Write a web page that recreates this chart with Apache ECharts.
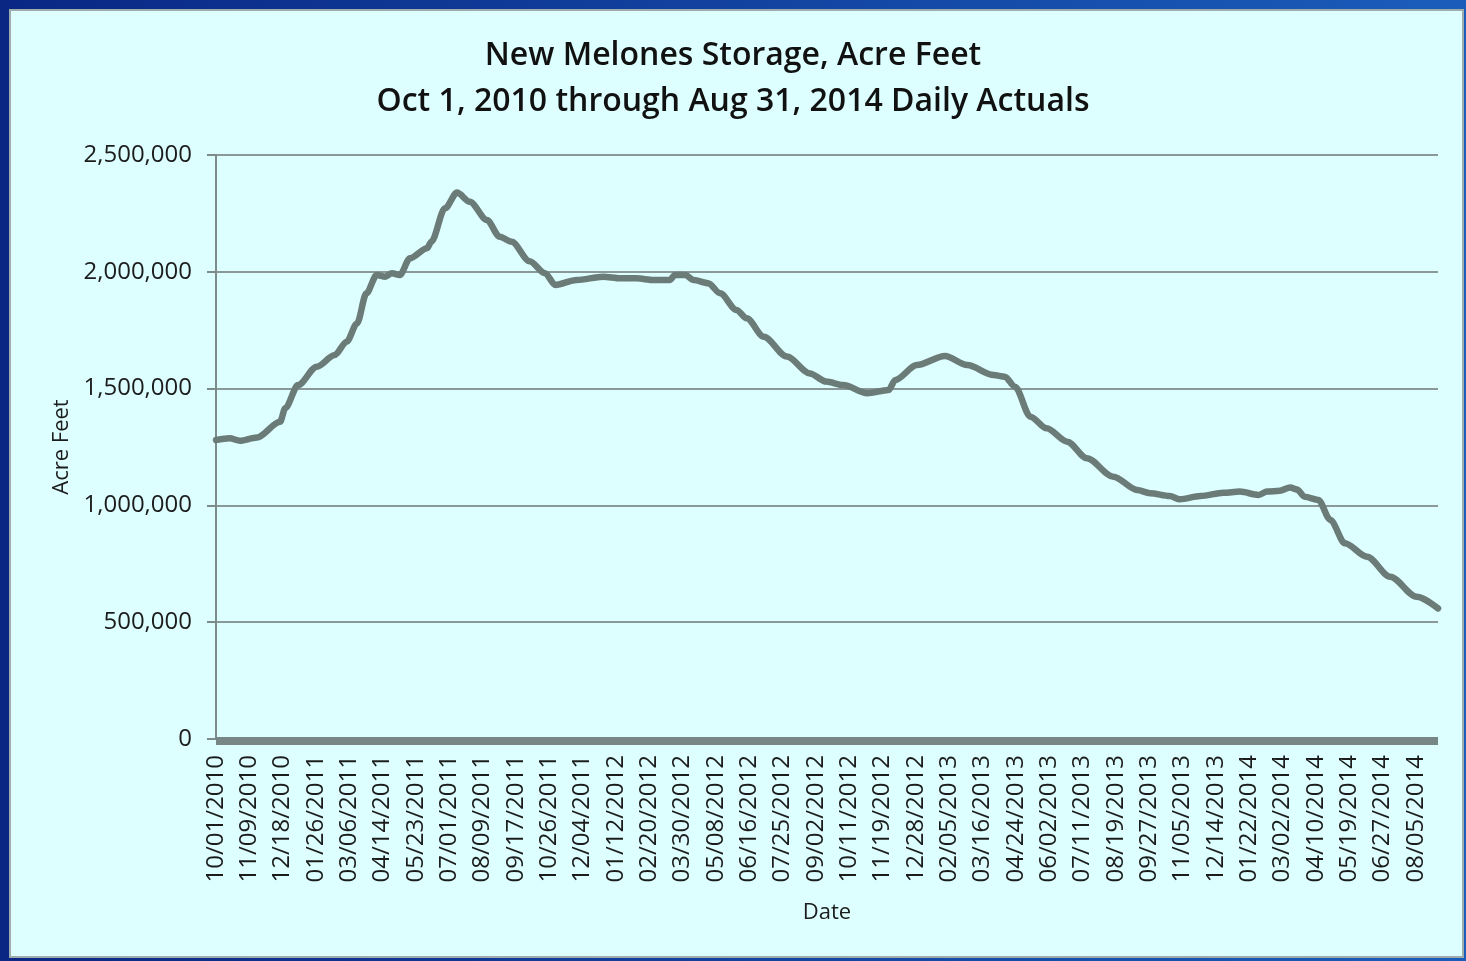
<!DOCTYPE html>
<html>
<head>
<meta charset="utf-8">
<title>New Melones Storage</title>
<script src="https://cdn.jsdelivr.net/npm/echarts@6/dist/echarts.min.js"></script>
<style>
  html, body {
    margin: 0;
    padding: 0;
    width: 1466px;
    height: 961px;
    overflow: hidden;
    background: linear-gradient(90deg, #0a2784 0%, #1448a6 60%, #1b5cba 100%);
  }
  .frame {
    position: absolute;
    left: 9px;
    top: 9px;
    width: 1455px;
    height: 949px;
    box-sizing: border-box;
    background: #ddffff;
    border: 2px solid #9eacac;
  }
  #chart {
    position: absolute;
    left: 0;
    top: 0;
    width: 1466px;
    height: 961px;
  }
</style>
</head>
<body>
<div class="frame"></div>
<div id="chart"></div>
<script>
// days counted from 10/01/2010, storage in acre feet
const startDate = Date.UTC(2010, 9, 1)
const lastDay = 1430   // 08/31/2014
const labelStep = 39   // one date label every 39 days

const storageDay = [
  0, 16, 28, 48, 75, 81, 96, 118, 139, 153, 165, 176, 188, 198, 206, 215,
  227, 247, 252, 268, 282, 297, 317, 332, 346, 367, 385, 397, 422, 453, 473,
  492, 512, 531, 537, 549, 559, 576, 590, 609, 621, 641, 668, 695, 714, 734,
  762, 787, 795, 820, 853, 879, 910, 923, 935, 953, 972, 996, 1019, 1050,
  1078, 1093, 1116, 1128, 1152, 1179, 1198, 1220, 1230, 1245, 1257, 1265,
  1274, 1290, 1304, 1321, 1347, 1374, 1405, 1430
]
const storageAF = [
  1280000, 1287000, 1277000, 1291000, 1358000, 1416000, 1515000, 1594000,
  1644000, 1701000, 1779000, 1908000, 1986000, 1979000, 1994000, 1986000,
  2058000, 2101000, 2129000, 2272000, 2339000, 2300000, 2222000, 2150000,
  2129000, 2045000, 1994000, 1944000, 1965000, 1979000, 1972000, 1972000,
  1965000, 1965000, 1986000, 1986000, 1965000, 1951000, 1908000, 1837000,
  1801000, 1722000, 1637000, 1565000, 1530000, 1515000, 1480000, 1494000,
  1537000, 1601000, 1640000, 1601000, 1558000, 1551000, 1508000, 1380000,
  1330000, 1273000, 1202000, 1123000, 1066000, 1052000, 1040000, 1026000,
  1040000, 1054000, 1059000, 1045000, 1059000, 1063000, 1077000, 1068000,
  1037000, 1023000, 938000, 838000, 780000, 695000, 609000, 559000
]

const yMax = 2500000
const yStep = 500000

function dayLabel(v) {
  const d = new Date(startDate + v * 86400000)
  const mm = String(d.getUTCMonth() + 1).padStart(2, '0')
  const dd = String(d.getUTCDate()).padStart(2, '0')
  return mm + '/' + dd + '/' + d.getUTCFullYear()
}

const chart = echarts.init(document.getElementById('chart'))
const textColor = '#1c1c1c'
const font = '"Open Sans", "DejaVu Sans", sans-serif'

chart.setOption({
  animation: false,
  backgroundColor: 'transparent',
  title: {
    text: 'New Melones Storage, Acre Feet\nOct 1, 2010 through Aug 31, 2014 Daily Actuals',
    left: 'center',
    top: 33,
    padding: 0,
    textStyle: {
      fontFamily: font,
      fontSize: 32,
      fontWeight: 600,
      color: '#111',
      lineHeight: 46
    }
  },
  grid: {
    left: 216,
    right: 28,
    top: 155,
    bottom: 222,
    containLabel: false
  },
  xAxis: {
    type: 'value',
    min: 0,
    max: lastDay,
    interval: labelStep,
    offset: 2,
    name: 'Date',
    nameLocation: 'middle',
    nameGap: 161,
    nameTextStyle: { fontFamily: font, fontSize: 22, color: textColor },
    axisLine: { show: true, onZero: false, lineStyle: { color: '#778785', width: 8, cap: 'butt' } },
    axisTick: { show: false },
    splitLine: { show: false },
    axisLabel: {
      rotate: 90,
      margin: 14,
      fontFamily: font,
      fontSize: 24,
      color: textColor,
      showMaxLabel: false,
      formatter: dayLabel
    }
  },
  yAxis: {
    type: 'value',
    min: 0,
    max: yMax,
    interval: yStep,
    name: 'Acre Feet',
    nameLocation: 'middle',
    nameGap: 143,
    nameTextStyle: { fontFamily: font, fontSize: 22, color: textColor },
    axisLine: { show: true, lineStyle: { color: '#7d8b8a', width: 2 } },
    axisTick: { show: true, length: 9, lineStyle: { color: '#7d8b8a', width: 2 } },
    splitLine: { show: true, lineStyle: { color: '#8a9897', width: 2 } },
    axisLabel: {
      margin: 24,
      fontFamily: font,
      fontSize: 24,
      color: textColor,
      formatter: v => v.toLocaleString('en-US')
    }
  },
  series: [
    {
      type: 'line',
      data: storageDay.map((d, i) => [d, storageAF[i]]),
      showSymbol: false,
      smooth: 0.3,
      smoothMonotone: 'x',
      lineStyle: { color: '#6b7b78', width: 6.5, cap: 'round', join: 'round' }
    }
  ]
})
</script>
</body>
</html>
